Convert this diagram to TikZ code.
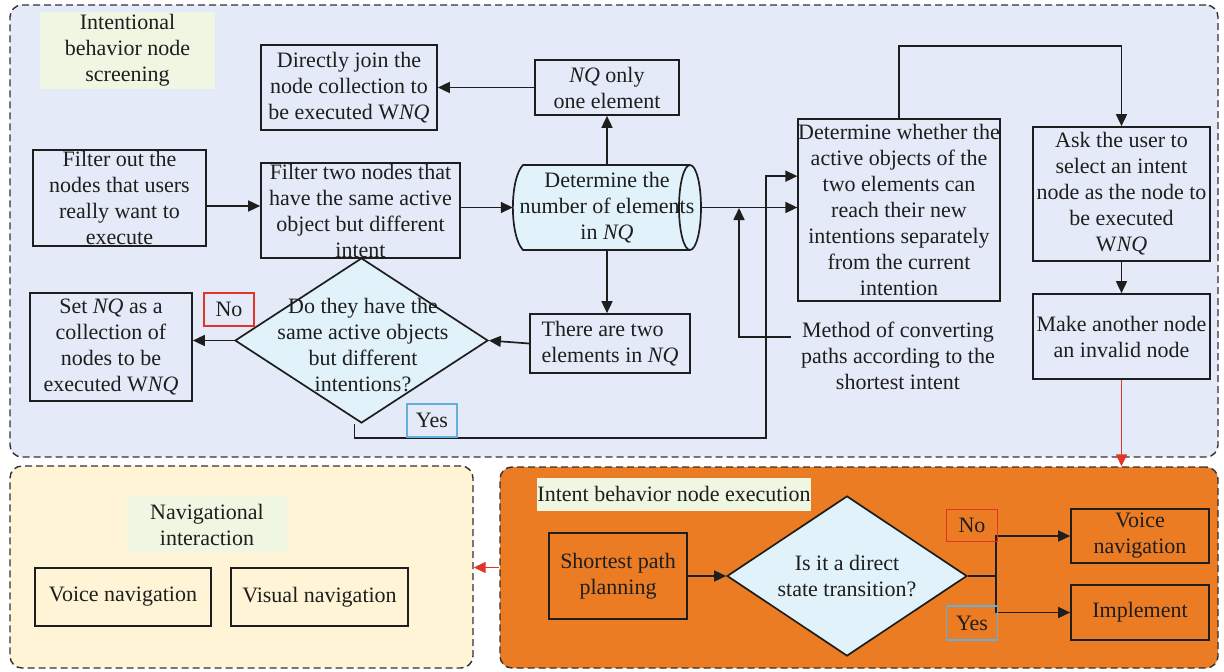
\documentclass[tikz,border=0pt]{standalone}
\usepackage{fontspec}
\setmainfont{Liberation Serif}
\usetikzlibrary{arrows.meta,shapes.geometric}
\definecolor{panelA}{RGB}{229,234,248}
\definecolor{panelB}{RGB}{255,244,214}
\definecolor{panelC}{RGB}{236,124,36}
\definecolor{lblgreen}{RGB}{239,246,225}
\definecolor{lblue}{RGB}{225,242,250}
\definecolor{ink}{RGB}{30,30,30}
\definecolor{redc}{RGB}{226,52,40}
\definecolor{bluec}{RGB}{100,175,220}
\definecolor{dashc}{RGB}{50,50,50}
\tikzset{
  every node/.style={font=\fontsize{22}{26}\selectfont, text=ink},
  panel/.style={draw=dashc, line width=1.4pt, dash pattern=on 7pt off 4pt, rounded corners=12pt, inner sep=0pt},
  box/.style={draw=ink, line width=1.7pt, inner sep=0pt, align=center},
  lbl/.style={fill=lblgreen, inner sep=0pt, align=center},
  tag/.style={line width=1.6pt, inner sep=0pt},
  dmd/.style={diamond, draw=ink, fill=lblue, line width=1.7pt, inner sep=0pt},
  arr/.style={draw=ink, line width=1.7pt, -{Triangle[length=12pt,width=11pt]}},
  redarr/.style={draw=redc, line width=1.4pt, -{Triangle[length=12pt,width=11pt]}},
}
\begin{document}
\begin{tikzpicture}[x=1pt,y=-1pt]
\useasboundingbox (0,0) rectangle (1224,672);
% panels
\node[panel, fill=panelA, minimum width=1208pt, minimum height=452pt] (scr) at (614,231) {};
\node[panel, fill=panelB, minimum width=463pt, minimum height=202pt] (navp) at (241.5,567) {};
\node[panel, fill=panelC, minimum width=718pt, minimum height=201pt] (exec) at (859,567.5) {};

% --- top panel ---
\node[lbl, minimum width=175pt, minimum height=77pt] (lbl1) at (127.5,50.5) {Intentional\\behavior node\\screening};
\node[box, minimum width=176pt, minimum height=85pt] (join) at (349,87.5) {Directly join the\\node collection to\\be executed W\textit{NQ}};
\node[box, minimum width=144pt, minimum height=55pt] (nq1) at (607,87.5) {\textit{NQ} only\\one element};
\node[box, minimum width=173pt, minimum height=96pt] (f1) at (119.5,198) {Filter out the\\nodes that users\\really want to\\execute};
\node[box, minimum width=199pt, minimum height=95pt] (f2) at (360.5,210.5) {Filter two nodes that\\have the same active\\object but different\\intent};
% cylinder
\filldraw[fill=lblue, draw=ink, line width=1.7pt] (523,165) -- (690,165) arc[start angle=90, end angle=-90, x radius=11pt, y radius=42.5pt] -- (523,250) .. controls (509.5,236) and (509.5,179) .. (523,165) -- cycle;
\draw[ink, line width=1.7pt] (690,165) arc[start angle=90, end angle=270, x radius=11pt, y radius=42.5pt];
\node[inner sep=0pt, minimum width=188pt, minimum height=85pt, align=center] (cyl) at (607,207.5) {Determine the\\number of elements\\in \textit{NQ}};
\node[box, minimum width=198pt, minimum height=182pt] (det) at (899,210) {Determine whether the\\active objects of the\\two elements can\\reach their new\\intentions separately\\from the current\\intention};
\node[box, minimum width=177pt, minimum height=134pt] (ask) at (1121.5,194) {Ask the user to\\select an intent\\node as the node to\\be executed\\W\textit{NQ}};
\node[box, minimum width=177pt, minimum height=85pt] (mk) at (1121.5,336.5) {Make another node\\an invalid node};
\node[box, align=left, minimum width=160pt, minimum height=59pt] (two) at (610,343.5) {There are two\\elements in \textit{NQ}};
\node[box, minimum width=162pt, minimum height=108pt] (setnq) at (111,347) {Set \textit{NQ} as a\\collection of\\nodes to be\\executed W\textit{NQ}};
\node[dmd, minimum width=253pt, minimum height=165pt] (dia) at (361.5,340.5) {};
\node[align=center, inner sep=0pt] (diatxt) at (363,345) {Do they have the\\same active objects\\but different\\intentions?};
\node[align=center, inner sep=0pt] (meth) at (898,356) {Method of converting\\paths according to the\\shortest intent};
\coordinate (ybend) at (766,438);
\coordinate (mtip) at (739,208);

\draw[arr] ([yshift=-8pt]f1.east) -- ([yshift=-8pt]f1.east -| f2.west);
\draw[arr] (f2.east |- cyl.west) -- (cyl.west);
\draw[arr] (cyl.north) -- (nq1.south);
\draw[arr] (nq1.west) -- (join.east);
\draw[arr] (cyl.south) -- (two.north -| cyl.south);
\draw[arr] (two.west) -- (dia.east);
\draw[arr] (dia.west) -- (dia.west -| setnq.east);
\draw[arr] ([xshift=-7pt]dia.south) |- (ybend) |- ([yshift=-58pt]det.north west);
\draw[arr] (cyl.east) -- (cyl.east -| det.west);
\draw[arr] ([xshift=-10pt,yshift=19pt]meth.west) -| (mtip);
\draw[arr] (det.north) -- ++(0,-72) -| (ask.north);
\draw[arr] (ask.south) -- (mk.north);
\draw[redarr] (mk.south) -- (mk.south |- exec.north);

\node[tag, draw=redc, minimum width=50pt, minimum height=33pt] (no1) at (229,309.5) {No};
\node[tag, draw=bluec, minimum width=50pt, minimum height=33pt] (yes1) at (432,420.5) {Yes};

% --- bottom left ---
\node[lbl, minimum width=160pt, minimum height=57pt] (lbl3) at (207,524.5) {Navigational\\interaction};
\node[box, minimum width=176pt, minimum height=58pt] (voice1) at (123,597) {Voice navigation};
\node[box, minimum width=177pt, minimum height=58pt] (visual) at (319.5,597) {Visual navigation};
\draw[redarr] (exec.west) -- (exec.west -| navp.east);

% --- bottom right ---
\node[lbl, minimum width=272pt, minimum height=33pt] (lbl2) at (674,494) {Intent behavior node execution};
\node[box, minimum width=138pt, minimum height=86pt] (sp) at (618,576) {Shortest path\\planning};
\node[dmd, minimum width=240pt, minimum height=160pt] (dia2) at (847,576) {};
\node[align=center, inner sep=0pt] (dia2txt) at (847,576) {Is it a direct\\state transition?};
\node[box, minimum width=138pt, minimum height=54pt] (voice2) at (1140,536) {Voice\\navigation};
\node[box, minimum width=138pt, minimum height=55pt] (impl) at (1140,612.5) {Implement};
\draw[arr] (sp.east) -- (sp.east -| dia2.west);
\draw[arr] (dia2.east) -- ++(28,0) |- (voice2.west);
\draw[arr] (dia2.east) -- ++(28,0) |- (impl.west);
\node[tag, draw=redc, minimum width=51pt, minimum height=32pt] (no2) at (972,525.5) {No};
\node[tag, draw=bluec, minimum width=51pt, minimum height=34pt] (yes2) at (972,623) {Yes};
\end{tikzpicture}
\end{document}
